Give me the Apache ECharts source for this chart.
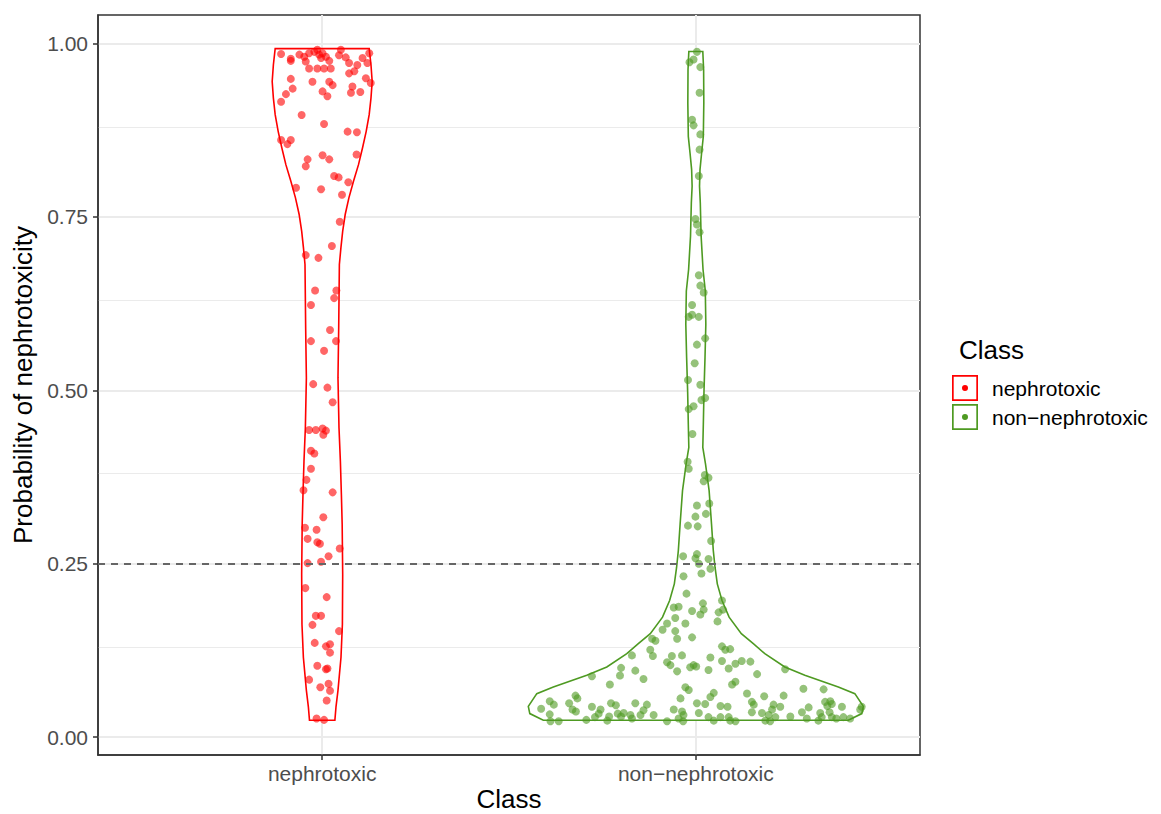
<!DOCTYPE html>
<html>
<head>
<meta charset="utf-8">
<script src="https://cdn.jsdelivr.net/npm/echarts@6/dist/echarts.min.js"></script>
<style>
html,body{margin:0;padding:0;background:#fff;overflow:hidden;}
#chart{width:1161px;height:814px;}
</style>
</head>
<body>
<div id="chart"></div>
<script>
// ---------- data ----------
const categories = ['nephrotoxic', 'non\u2212nephrotoxic'];
const legendNames = ['nephrotoxic', 'non\u2212nephrotoxic'];
const yTickValues = [0, 0.25, 0.5, 0.75, 1];
const yMinorValues = [0.125, 0.375, 0.625, 0.875];
const thresholdValue = 0.246;

// violin outlines: probability level and half-width (in category units)
const nephroViolinY = [0.9926,0.9694,0.9453,0.9213,0.8974,0.8734,0.8494,0.8254,0.8014,0.7775,0.7535,0.7295,0.7055,0.6815,0.590,0.518,0.446,0.398,0.350,0.307,0.235,0.163,0.115,0.0676,0.0435,0.0245];
const nephroViolinHalfWidth = [0.1258,0.1306,0.1338,0.1306,0.1258,0.1178,0.1079,0.0972,0.0838,0.0715,0.0616,0.0549,0.0501,0.0460,0.0442,0.0423,0.0450,0.0487,0.0514,0.0535,0.0549,0.0541,0.0503,0.0423,0.0369,0.0340];
const nonViolinY = [0.9885,0.9621,0.9141,0.8662,0.8422,0.8182,0.7942,0.7702,0.7223,0.6743,0.6432,0.5952,0.5472,0.4993,0.4513,0.4177,0.3938,0.3554,0.3074,0.2691,0.2451,0.2211,0.1971,0.1731,0.1492,0.1348,0.1204,0.1012,0.0892,0.0724,0.0628,0.0446,0.0341,0.0245];
const nonViolinHalfWidth = [0.0187,0.0209,0.0214,0.0201,0.0155,0.0112,0.0099,0.0120,0.0142,0.0193,0.0254,0.0268,0.0246,0.0219,0.0201,0.0187,0.0260,0.0356,0.0420,0.0468,0.0514,0.0575,0.0701,0.0891,0.1218,0.1539,0.1847,0.2382,0.2918,0.3814,0.4256,0.4483,0.4443,0.4082];

// jittered points: horizontal jitter (category units) and probability
const nephroJitter = [-0.110,-0.084,-0.084,-0.061,-0.048,-0.044,-0.035,-0.021,-0.013,-0.008,-0.003,0.001,0.010,0.019,0.050,0.045,0.063,0.072,0.094,0.108,0.121,0.126,-0.035,-0.013,0.005,0.023,0.072,0.086,-0.084,-0.026,0.019,0.028,0.081,0.117,0.130,-0.079,-0.097,-0.110,0.001,0.014,0.077,0.102,-0.055,0.005,0.068,0.093,-0.110,-0.093,-0.084,-0.039,-0.044,0.001,0.019,0.092,0.032,0.044,0.070,-0.070,-0.003,0.053,0.047,0.026,-0.044,-0.010,-0.019,0.038,0.032,-0.030,0.021,-0.030,0.037,0.005,-0.024,0.014,0.028,-0.035,-0.017,0.001,0.010,0.003,-0.030,-0.021,-0.030,-0.042,-0.050,0.028,0.003,-0.046,-0.015,-0.039,-0.013,-0.006,0.047,0.017,-0.003,-0.039,-0.045,0.012,-0.017,-0.003,-0.026,0.045,-0.020,0.010,0.021,0.021,-0.013,0.010,0.014,-0.035,-0.005,0.017,0.021,0.012,-0.015,0.005];
const nephroProb = [0.985,0.978,0.975,0.984,0.981,0.974,0.986,0.988,0.991,0.984,0.979,0.986,0.981,0.975,0.991,0.983,0.980,0.972,0.969,0.979,0.972,0.986,0.964,0.964,0.964,0.964,0.957,0.960,0.949,0.945,0.945,0.940,0.938,0.950,0.943,0.935,0.927,0.916,0.931,0.924,0.929,0.930,0.897,0.884,0.873,0.872,0.861,0.855,0.861,0.833,0.823,0.839,0.833,0.840,0.809,0.807,0.800,0.792,0.790,0.782,0.743,0.708,0.695,0.691,0.644,0.644,0.633,0.623,0.587,0.571,0.571,0.557,0.509,0.504,0.483,0.443,0.443,0.445,0.442,0.436,0.413,0.409,0.387,0.371,0.356,0.353,0.317,0.302,0.299,0.286,0.281,0.279,0.272,0.261,0.253,0.251,0.215,0.202,0.175,0.175,0.162,0.153,0.136,0.131,0.134,0.122,0.103,0.098,0.099,0.083,0.072,0.077,0.067,0.053,0.027,0.025];

const nonJitter = [-0.017,-0.006,0.003,0.012,0.010,-0.010,-0.006,0.012,0.010,0.008,-0.001,0.003,0.010,0.008,0.012,0.021,
-0.010,-0.019,-0.010,0.008,0.025,0.003,-0.003,-0.021,0.012,0.015,0.025,-0.019,-0.006,-0.009,-0.022,-0.019,0.024,0.034,0.021,0.036,0.003,0.027,-0.001,-0.021,0.005,0.041,-0.034,0.003,0.034,-0.001,
0.008,0.039,0.015,-0.033,-0.025,0.019,0.070,-0.059,-0.046,-0.010,0.021,0.012,0.061,0.073,-0.055,-0.077,-0.028,-0.089,-0.055,-0.050,-0.010,0.058,-0.117,-0.108,-0.122,-0.115,0.070,0.079,0.092,0.039,-0.064,-0.037,-0.077,-0.068,-0.006,-0.015,0.001,-0.050,0.034,0.070,0.106,0.123,0.146,0.088,0.106,0.097,-0.028,-0.019,0.048,0.039,-0.041,0.025,0.003,0.137,0.150,-0.131,-0.113,-0.059,-0.037,-0.033,-0.046,-0.034,0.008,0.034,0.066,0.085,0.066,0.088,0.092,0.106,0.150,-0.077,0.048,
-0.171,-0.200,-0.203,-0.162,-0.278,-0.230,-0.140,-0.322,-0.317,-0.391,-0.380,-0.339,-0.330,-0.321,-0.414,-0.391,-0.389,-0.367,-0.278,-0.255,-0.260,-0.270,-0.293,-0.227,-0.214,-0.209,-0.232,-0.200,-0.162,-0.193,-0.175,-0.171,-0.148,-0.140,-0.237,
0.164,0.239,0.288,0.342,0.235,0.183,0.155,0.208,0.226,0.204,0.177,0.195,0.213,0.186,0.199,0.253,0.284,0.302,0.297,0.333,0.328,0.346,0.360,0.352,0.364,0.358,0.364,0.376,0.391,0.395,0.413,0.440,0.444,0.337];
const nonProb = [0.973,0.977,0.988,0.966,0.929,0.890,0.882,0.869,0.847,0.809,0.747,0.739,0.728,0.666,0.651,0.641,
0.623,0.606,0.609,0.606,0.575,0.566,0.539,0.515,0.508,0.486,0.489,0.473,0.477,0.437,0.397,0.387,0.378,0.374,0.369,0.337,0.334,0.322,0.318,0.305,0.304,0.283,0.261,0.264,0.257,0.258,
0.250,0.243,0.236,0.232,0.207,0.193,0.197,0.187,0.188,0.182,0.184,0.177,0.180,0.184,0.172,0.164,0.164,0.155,0.153,0.142,0.144,0.167,0.142,0.139,0.126,0.117,0.131,0.126,0.127,0.115,0.117,0.118,0.108,0.104,0.104,0.101,0.102,0.095,0.097,0.110,0.106,0.110,0.109,0.099,0.080,0.076,0.072,0.068,0.064,0.058,0.056,0.048,0.049,0.063,0.051,0.047,0.032,0.040,0.037,0.032,0.027,0.023,0.035,0.029,0.045,0.044,0.029,0.029,0.024,0.023,0.036,0.023,0.024,
0.118,0.100,0.089,0.096,0.088,0.076,0.084,0.060,0.056,0.052,0.047,0.049,0.040,0.037,0.041,0.033,0.023,0.023,0.044,0.040,0.034,0.029,0.025,0.049,0.046,0.034,0.030,0.030,0.049,0.035,0.032,0.027,0.032,0.039,0.024,
0.091,0.098,0.070,0.069,0.060,0.059,0.047,0.047,0.044,0.040,0.035,0.032,0.029,0.024,0.023,0.030,0.036,0.043,0.027,0.035,0.024,0.051,0.052,0.045,0.048,0.036,0.029,0.027,0.044,0.029,0.027,0.040,0.044,0.029];

// ---------- styling ----------
const FONT = '"Liberation Sans", Arial, sans-serif';
const RED = '#FF0000';
const GREEN = '#4E9A22';
const classColors = [RED, GREEN];
const violinProfiles = [
  {y: nephroViolinY, hw: nephroViolinHalfWidth},
  {y: nonViolinY, hw: nonViolinHalfWidth}
];
const pointSets = [
  {jit: nephroJitter, prob: nephroProb},
  {jit: nonJitter, prob: nonProb}
];

function violinRenderer(profile, color) {
  return function (params, api) {
    const c = api.value(0);
    const right = profile.y.map((y, i) => api.coord([c + profile.hw[i], y]));
    const left = profile.y.map((y, i) => api.coord([c - profile.hw[i], y])).reverse();
    return {
      type: 'polygon',
      shape: {points: right.concat(left)},
      style: {fill: '#ffffff', stroke: color, lineWidth: 1.6}
    };
  };
}

const series = [];
// panel grid lines
series.push({
  type: 'line', name: '__grid', data: [], silent: true, z: 0,
  markLine: {
    silent: true, symbol: ['none', 'none'], animation: false, z: 0,
    label: {show: false},
    data: yTickValues.map(v => ({yAxis: v, lineStyle: {color: '#EBEBEB', width: 2, type: 'solid'}}))
      .concat(yMinorValues.map(v => ({yAxis: v, lineStyle: {color: '#EBEBEB', width: 1.2, type: 'solid'}})))
      .concat(categories.map((c, i) => ({xAxis: i + 1, lineStyle: {color: '#EBEBEB', width: 2, type: 'solid'}})))
  }
});
categories.forEach((cat, i) => {
  series.push({
    type: 'custom', name: legendNames[i], z: 2,
    renderItem: violinRenderer(violinProfiles[i], classColors[i]),
    data: [[i + 1, 0.5]], encode: {x: 0, y: 1},
    itemStyle: {color: classColors[i]}
  });
});
categories.forEach((cat, i) => {
  const s = {
    type: 'scatter', name: legendNames[i], z: 3,
    symbolSize: 8,
    itemStyle: {color: classColors[i], opacity: 0.6},
    data: pointSets[i].jit.map((j, k) => [i + 1 + j, pointSets[i].prob[k]])
  };
  if (i === 1) {
    s.markLine = {
      silent: true, symbol: ['none', 'none'], label: {show: false}, z: 5,
      lineStyle: {color: '#666666', width: 2, type: [7, 6]},
      data: [{yAxis: thresholdValue}]
    };
  }
  series.push(s);
});

const legendIcon = 'path://M0,0H26V26H0Z M1.7,1.7V24.3H24.3V1.7Z M10,13A3,3 0 1,1 16,13A3,3 0 1,1 10,13Z';

const option = {
  animation: false,
  backgroundColor: '#ffffff',
  textStyle: {fontFamily: FONT},
  title: {
    text: 'Class', left: 959, top: 337, padding: 0,
    textStyle: {fontFamily: FONT, fontSize: 26, fontWeight: 'normal', color: '#000000'}
  },
  legend: {
    orient: 'vertical', left: 952, top: 375, padding: 0,
    itemWidth: 44, itemHeight: 26, itemGap: 3,
    selectedMode: false,
    textStyle: {fontFamily: FONT, fontSize: 21, color: '#000000'},
    data: legendNames.map((n, i) => ({name: n, icon: legendIcon, itemStyle: {color: classColors[i], opacity: 1}}))
  },
  grid: {
    left: 98, width: 822, top: 15, height: 740,
    outerBoundsMode: 'none', containLabel: false,
    show: true, borderColor: '#333333', borderWidth: 1.5, backgroundColor: '#ffffff'
  },
  xAxis: {
    type: 'value', min: 0.4, max: 2.6,
    name: 'Class', nameLocation: 'middle', nameGap: 31, nameMoveOverlap: false,
    nameTextStyle: {fontFamily: FONT, fontSize: 26, lineHeight: 26, color: '#000000'},
    axisLine: {show: true, onZero: false, lineStyle: {color: '#333333', width: 1.5}},
    axisTick: {show: true, length: 5, lineStyle: {color: '#333333', width: 1.5}, customValues: [1, 2]},
    axisLabel: {
      customValues: [1, 2], margin: 8, fontSize: 21, color: '#4D4D4D', fontFamily: FONT,
      formatter: v => categories[Math.round(v) - 1]
    },
    splitLine: {show: false}
  },
  yAxis: {
    type: 'value', min: -0.0256, max: 1.0411,
    name: 'Probability of nephrotoxicity', nameLocation: 'middle', nameGap: 54, nameRotate: 90,
    nameTextStyle: {fontFamily: FONT, fontSize: 26, color: '#000000'},
    axisLine: {show: true, onZero: false, lineStyle: {color: '#333333', width: 1.5}},
    axisTick: {show: true, length: 5, lineStyle: {color: '#333333', width: 1.5}, customValues: yTickValues},
    axisLabel: {
      customValues: yTickValues, margin: 10, fontSize: 21, color: '#4D4D4D', fontFamily: FONT,
      formatter: v => v.toFixed(2)
    },
    splitLine: {show: false}
  },
  series: series
};

const chart = echarts.init(document.getElementById('chart'), null, {renderer: 'svg', width: 1161, height: 814});
chart.setOption(option);
</script>
</body>
</html>
